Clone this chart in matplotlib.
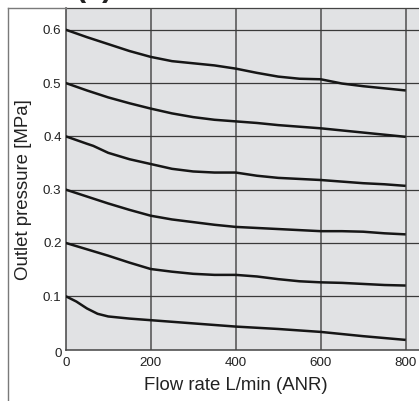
"""Outlet pressure vs flow rate characteristic (regulator chart)."""

import matplotlib
matplotlib.use("Agg")
import matplotlib.pyplot as plt
from matplotlib.lines import Line2D
from matplotlib.transforms import ScaledTranslation

# ---------------------------------------------------------------------------
# Data
# ---------------------------------------------------------------------------
flow_50 = [0, 50, 100, 150, 200, 250, 300, 350, 400, 450, 500, 550, 600, 650, 700, 750, 800]

p_06 = [0.600, 0.586, 0.573, 0.560, 0.549, 0.541, 0.537, 0.533, 0.527,
        0.519, 0.512, 0.508, 0.507, 0.499, 0.494, 0.490, 0.486]
p_05 = [0.500, 0.486, 0.473, 0.462, 0.452, 0.443, 0.436, 0.431, 0.428,
        0.425, 0.421, 0.418, 0.415, 0.411, 0.407, 0.403, 0.399]
p_03 = [0.300, 0.287, 0.274, 0.262, 0.251, 0.244, 0.239, 0.234, 0.230,
        0.228, 0.226, 0.224, 0.222, 0.222, 0.221, 0.218, 0.216]
p_02 = [0.200, 0.188, 0.176, 0.163, 0.151, 0.146, 0.142, 0.140, 0.140,
        0.137, 0.132, 0.128, 0.126, 0.125, 0.123, 0.121, 0.120]

flow_04 = [0, 50, 65, 100, 150, 200, 250, 300, 350, 400, 450, 500, 550, 600, 650, 700, 750, 800]
p_04 = [0.400, 0.386, 0.382, 0.369, 0.357, 0.348, 0.339, 0.334, 0.332, 0.332,
        0.326, 0.322, 0.320, 0.318, 0.315, 0.312, 0.310, 0.307]

flow_01 = [0, 25, 50, 75, 100, 150, 200, 300, 400, 500, 600, 700, 800]
p_01 = [0.100, 0.090, 0.077, 0.067, 0.062, 0.058, 0.055, 0.049, 0.043,
        0.0385, 0.033, 0.025, 0.018]

curves = [
    (flow_50, p_06), (flow_50, p_05), (flow_04, p_04),
    (flow_50, p_03), (flow_50, p_02), (flow_01, p_01),
]

x_ticks = [0, 200, 400, 600, 800]
x_tick_labels = ["0", "200", "400", "600", "800"]
y_ticks = [0.1, 0.2, 0.3, 0.4, 0.5, 0.6]
y_tick_labels = ["0.1", "0.2", "0.3", "0.4", "0.5", "0.6"]

# ---------------------------------------------------------------------------
# Style
# ---------------------------------------------------------------------------
plt.rcParams.update({
    "font.family": ["Liberation Sans", "DejaVu Sans"],
    "font.size": 9.6,
})

W, H = 419, 401
fig = plt.figure(figsize=(W / 100, H / 100), dpi=100)
fig.patch.set_facecolor("white")

ax_left, ax_bottom, ax_top = 65.7, 349.5, 8.0
ax = fig.add_axes([ax_left / W, (H - ax_bottom) / H,
                   1.0 - ax_left / W, (ax_bottom - ax_top) / H])
ax.set_facecolor("#e1e2e4")

x_per_px = 200 / 85.0
y_per_px = 0.1 / 53.3
ax.set_xlim(0, (W - ax_left) * x_per_px)
ax.set_ylim(0, (ax_bottom - ax_top) * y_per_px)

for xv in x_ticks[1:]:
    ax.axvline(xv, color="#5a5a5a", linewidth=1.2, zorder=1)
for yv in y_ticks:
    ax.axhline(yv, color="#3a3a3a", linewidth=0.9, zorder=1)

for fx, py in curves:
    ax.plot(fx, py, color="#161616", linewidth=1.8, zorder=3,
            solid_capstyle="butt")

ax.spines["right"].set_visible(False)
for side in ("left", "bottom"):
    ax.spines[side].set_color("#444444")
    ax.spines[side].set_linewidth(1.1)
ax.spines["top"].set_color("#444444")
ax.spines["top"].set_linewidth(0.9)

ax.set_xticks(x_ticks)
ax.set_xticklabels(x_tick_labels)
ax.set_yticks(y_ticks)
ax.set_yticklabels(y_tick_labels)
ax.tick_params(axis="both", length=0, colors="#222222", labelsize=9.6)
ax.tick_params(axis="y", pad=3)
ax.tick_params(axis="x", pad=5.5)

# The y "0" label sits a little lower than the others
ax.text(0, 0, "0", ha="right", va="center", fontsize=9.6, color="#222222",
        transform=ax.transData + ScaledTranslation(-3.5 / 100, -4.5 / 100,
                                                   fig.dpi_scale_trans))

fig.text(235.5 / W, 1 - 386 / H, "Flow rate L/min (ANR)", ha="center",
         va="center", fontsize=13.4, color="#222222")
fig.text(23 / W, 1 - 190 / H, "Outlet pressure [MPa]", ha="center",
         va="center", rotation=90, fontsize=13.4, color="#222222")

# Outer frame of the catalogue panel (cut by the image edges)
frame_x = 8 / W
frame_y = 1 - 8 / H
fig.add_artist(Line2D([frame_x, frame_x], [0, frame_y], transform=fig.transFigure,
                      color="#7a7a7a", linewidth=1.0))
fig.add_artist(Line2D([frame_x, ax_left / W], [frame_y, frame_y],
                      transform=fig.transFigure, color="#7a7a7a", linewidth=1.0))

# Heading above the panel, cropped off at the top like the source scan
fig.text(94 / W, 1.011, "(1)", ha="center", va="baseline", fontsize=22,
         fontweight="bold", color="#222222")

fig.savefig("out.png", dpi=100)
